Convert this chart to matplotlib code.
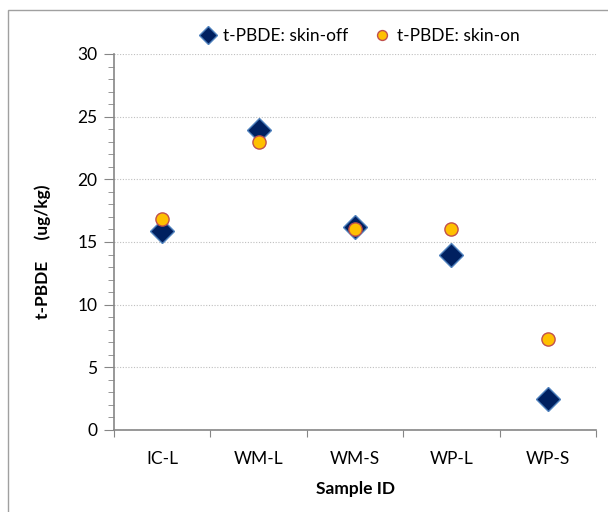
import matplotlib.pyplot as plt
from matplotlib.patches import Rectangle
from matplotlib.ticker import MultipleLocator

samples = ['IC-L', 'WM-L', 'WM-S', 'WP-L', 'WP-S']
skin_off = [15.9, 23.9, 16.2, 14.0, 2.5]
skin_on = [16.8, 23.0, 16.0, 16.0, 7.3]

plt.rcParams['font.family'] = ['Lato', 'DejaVu Sans']

fig = plt.figure(figsize=(6.08, 5.12), dpi=100)
ax = fig.add_axes([114 / 608, 82 / 512, 482 / 608, 376 / 512])

# chart border like Excel
fig.patches.append(Rectangle((8 / 608, -0.1), 1.2, 1.1 - 10 / 512,
                             transform=fig.transFigure, fill=False,
                             edgecolor='#a0a0a0', linewidth=1.0))

x = [i + 0.5 for i in range(len(samples))]
ax.plot(x, skin_off, linestyle='none', marker='D', markersize=12.5,
        markerfacecolor='#002060', markeredgecolor='#4f81bd',
        markeredgewidth=1.0, label='t-PBDE: skin-off', zorder=3)
ax.plot(x, skin_on, linestyle='none', marker='o', markersize=9.5,
        markerfacecolor='#ffc000', markeredgecolor='#c0504d',
        markeredgewidth=1.0, label='t-PBDE: skin-on', zorder=4)

ax.set_xlim(0, 5)
ax.set_ylim(0, 30)
ax.set_xticks(range(6))
ax.set_xticklabels([])
ax.set_xticks(x, minor=True)
ax.set_xticklabels(samples, minor=True, fontsize=12.5)
ax.tick_params(axis='x', which='major', length=5, color='#868686')
ax.tick_params(axis='x', which='minor', length=0, pad=15)

ax.yaxis.set_major_locator(MultipleLocator(5))
ax.yaxis.set_minor_locator(MultipleLocator(1))
ax.tick_params(axis='y', which='major', length=7, color='#868686', labelsize=12.5, pad=5)
ax.tick_params(axis='y', which='minor', length=4, color='#868686')

ax.grid(axis='y', which='major', linestyle=(0, (1, 1.5)), color='#bfbfbf', linewidth=0.8)
ax.set_axisbelow(True)

for side in ['top', 'right']:
    ax.spines[side].set_visible(False)
for side in ['left', 'bottom']:
    ax.spines[side].set_color('#868686')
    ax.spines[side].set_linewidth(1.2)

ax.set_xlabel('Sample ID', fontsize=12.5, fontweight='bold', labelpad=10)
ax.set_ylabel('t-PBDE     (ug/kg)', fontsize=12.5, fontweight='bold')
ax.yaxis.set_label_coords(-0.13, 0.475)

ax.legend(loc='lower center', bbox_to_anchor=(0.505, 1.0), ncol=2, frameon=False,
          fontsize=12.5, handletextpad=0.1, handlelength=1.5, columnspacing=1.2,
          borderaxespad=0.2, markerscale=0.75)

fig.savefig('out.png', dpi=100)
